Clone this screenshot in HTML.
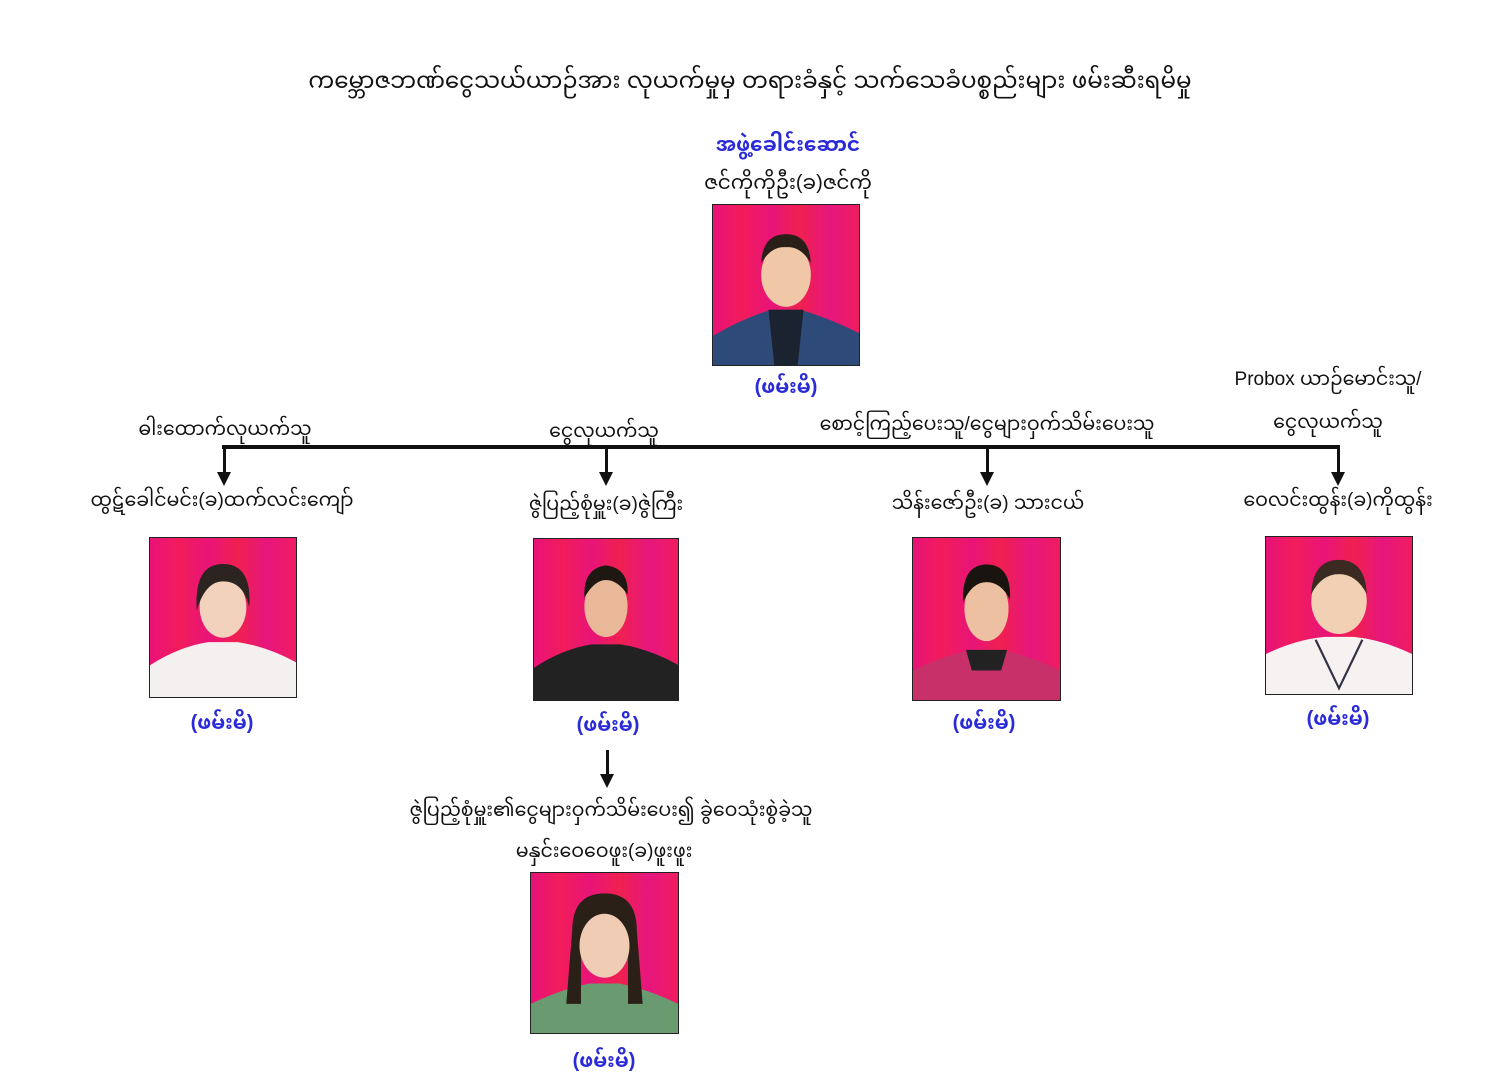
<!DOCTYPE html>
<html><head><meta charset="utf-8">
<style>
body{margin:0;width:1500px;height:1088px;background:#fff;position:relative;overflow:hidden;font-family:"Liberation Sans","Noto Sans Myanmar","Padauk","Myanmar Text",sans-serif;color:#111}
.t{position:absolute;white-space:nowrap;transform:translateX(-50%);line-height:1}
.b{color:#2a2ad8;font-weight:bold}
.ph{position:absolute;border:1.5px solid #222;box-sizing:border-box;background:linear-gradient(90deg,#e8127a 0%,#f21c5a 20%,#e81478 40%,#f02050 60%,#e6167e 80%,#f01c60 100%)}
.ph svg{position:absolute;left:0;top:0;width:100%;height:100%}
.ln{position:absolute;background:#111}
.ar{position:absolute;width:0;height:0;border-left:7px solid transparent;border-right:7px solid transparent;border-top:14px solid #111}
</style></head><body>
<div class="t" style="left:750px;top:69px;font-size:23px">ကမ္ဘောဇဘဏ်ငွေသယ်ယာဉ်အား လုယက်မှုမှ တရားခံနှင့် သက်သေခံပစ္စည်းများ ဖမ်းဆီးရမိမှု</div>
<div class="t b" style="left:788px;top:135px;font-size:20px">အဖွဲ့ခေါင်းဆောင်</div>
<div class="t" style="left:788px;top:173px;font-size:20px">ဇင်ကိုကိုဦး(ခ)ဇင်ကို</div>

<div class="ph" style="left:712px;top:204px;width:148px;height:162px"><svg viewBox="0 0 100 110" preserveAspectRatio="none"><path d="M0 110 L0 90 Q20 78 40 72 L60 72 Q80 78 100 88 L100 110Z" fill="#2d4a78"/><path d="M38 72 L62 72 L58 110 L42 110Z" fill="#1b2230"/><ellipse cx="50" cy="48" rx="17" ry="22" fill="#f0c8a8"/><path d="M33 40 Q34 20 50 20 Q66 20 67 40 Q60 28 50 29 Q40 28 33 40Z" fill="#2a1e18"/></svg></div>
<div class="t b" style="left:786px;top:377px;font-size:20px">(ဖမ်းမိ)</div>

<div class="t" style="left:1328px;top:370px;font-size:19px">Probox ယာဉ်မောင်းသူ/</div>
<div class="t" style="left:225px;top:420px;font-size:19px">ဓါးထောက်လုယက်သူ</div>
<div class="t" style="left:604px;top:422px;font-size:19px">ငွေလုယက်သူ</div>
<div class="t" style="left:987px;top:415px;font-size:19px">စောင့်ကြည့်ပေးသူ/ငွေများဝှက်သိမ်းပေးသူ</div>
<div class="t" style="left:1328px;top:413px;font-size:19px">ငွေလုယက်သူ</div>

<div class="ln" style="left:222px;top:445px;width:1118px;height:4px"></div>
<div class="ln" style="left:223px;top:447px;width:3px;height:28px"></div><div class="ar" style="left:217px;top:472px"></div>
<div class="ln" style="left:605px;top:447px;width:3px;height:28px"></div><div class="ar" style="left:599px;top:472px"></div>
<div class="ln" style="left:986px;top:447px;width:3px;height:28px"></div><div class="ar" style="left:980px;top:472px"></div>
<div class="ln" style="left:1337px;top:447px;width:3px;height:28px"></div><div class="ar" style="left:1331px;top:472px"></div>

<div class="t" style="left:222px;top:491px;font-size:19px">ထွဋ်ခေါင်မင်း(ခ)ထက်လင်းကျော်</div>
<div class="t" style="left:606px;top:495px;font-size:19px">ဇွဲပြည့်စုံမှူး(ခ)ဇွဲကြီး</div>
<div class="t" style="left:988px;top:494px;font-size:19px">သိန်းဇော်ဦး(ခ) သားငယ်</div>
<div class="t" style="left:1338px;top:491px;font-size:19px">ဝေလင်းထွန်း(ခ)ကိုထွန်း</div>

<div class="ph" style="left:149px;top:537px;width:148px;height:161px"><svg viewBox="0 0 100 110" preserveAspectRatio="none"><path d="M0 110 L0 88 Q20 75 40 72 L60 72 Q80 75 100 86 L100 110Z" fill="#f4f0f0"/><ellipse cx="50" cy="48" rx="16" ry="21" fill="#f2d2bc"/><path d="M32 50 Q30 18 50 18 Q70 18 68 48 Q64 30 50 30 Q38 30 32 50Z" fill="#2b2420"/></svg></div>
<div class="ph" style="left:533px;top:538px;width:146px;height:163px"><svg viewBox="0 0 100 110" preserveAspectRatio="none"><path d="M0 110 L0 88 Q20 75 40 72 L60 72 Q80 75 100 86 L100 110Z" fill="#222"/><ellipse cx="50" cy="46" rx="15" ry="21" fill="#e8b898"/><path d="M35 40 Q34 20 50 18 Q66 20 65 38 Q58 28 50 28 Q42 28 35 40Z" fill="#1f1812"/></svg></div>
<div class="ph" style="left:912px;top:537px;width:149px;height:164px"><svg viewBox="0 0 100 110" preserveAspectRatio="none"><path d="M0 110 L0 90 Q20 80 40 76 L60 76 Q80 80 100 90 L100 110Z" fill="#c8306a"/><path d="M36 76 L64 76 L60 90 L40 90Z" fill="#222"/><ellipse cx="50" cy="48" rx="15" ry="22" fill="#ecc0a0"/><path d="M34 44 Q33 18 50 18 Q67 18 66 42 Q60 30 50 30 Q40 30 34 44Z" fill="#1a1410"/></svg></div>
<div class="ph" style="left:1265px;top:536px;width:148px;height:159px"><svg viewBox="0 0 100 110" preserveAspectRatio="none"><path d="M0 110 L0 82 Q20 72 40 70 L60 70 Q80 72 100 82 L100 110Z" fill="#f6f2f2"/><path d="M34 72 L50 106 L66 72" fill="none" stroke="#334" stroke-width="1.5"/><ellipse cx="50" cy="45" rx="19" ry="23" fill="#f2d0b4"/><path d="M31 40 Q32 16 50 16 Q68 16 69 40 Q62 26 50 26 Q38 26 31 40Z" fill="#3a2a22"/></svg></div>

<div class="t b" style="left:222px;top:713px;font-size:20px">(ဖမ်းမိ)</div>
<div class="t b" style="left:608px;top:715px;font-size:20px">(ဖမ်းမိ)</div>
<div class="t b" style="left:984px;top:713px;font-size:20px">(ဖမ်းမိ)</div>
<div class="t b" style="left:1338px;top:709px;font-size:20px">(ဖမ်းမိ)</div>

<div class="ln" style="left:606px;top:750px;width:3px;height:26px"></div><div class="ar" style="left:600px;top:774px"></div>

<div class="t" style="left:611px;top:801px;font-size:19px">ဇွဲပြည့်စုံမှူး၏ငွေများဝှက်သိမ်းပေး၍ ခွဲဝေသုံးစွဲခဲ့သူ</div>
<div class="t" style="left:604px;top:842px;font-size:19px">မနှင်းဝေဝေဖူး(ခ)ဖူးဖူး</div>
<div class="ph" style="left:530px;top:872px;width:149px;height:162px"><svg viewBox="0 0 100 110" preserveAspectRatio="none"><path d="M0 110 L0 90 Q20 80 40 76 L60 76 Q80 80 100 90 L100 110Z" fill="#6a9a70"/><path d="M28 40 Q28 14 50 14 Q72 14 72 40 L76 90 L66 90 L66 50 L34 50 L34 90 L24 90Z" fill="#2a2018"/><ellipse cx="50" cy="50" rx="17" ry="22" fill="#f0ccb4"/></svg></div>
<div class="t b" style="left:604px;top:1051px;font-size:20px">(ဖမ်းမိ)</div>
</body></html>
